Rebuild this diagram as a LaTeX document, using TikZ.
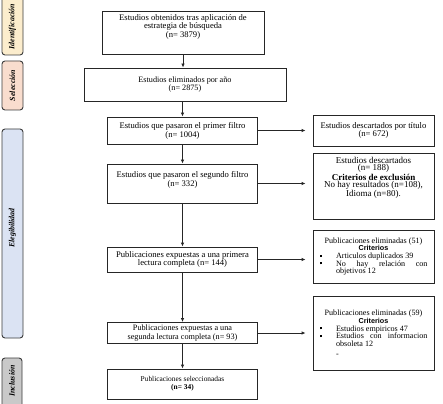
\documentclass[tikz,border=0pt]{standalone}
\usepackage{fontspec}
\setmainfont{Liberation Serif}
\setsansfont{Liberation Sans}
\usetikzlibrary{arrows.meta}
\definecolor{cIdent}{RGB}{252,237,205}
\definecolor{cSel}{RGB}{249,221,206}
\definecolor{cEleg}{RGB}{219,227,243}
\definecolor{cIncl}{RGB}{201,201,201}
\definecolor{cEdge}{RGB}{60,60,60}
\newcommand{\sqbul}{\makebox[16.5pt][l]{\rule[1.8pt]{2pt}{2pt}}}
\newcommand{\fullln}[1]{\makebox[108pt][s]{#1}}
\newcommand{\leftln}[1]{\makebox[108pt][l]{#1}}
\begin{document}
\begin{tikzpicture}[x=1pt,y=-1pt,
  phase/.style={draw=cEdge, line width=0.9pt, rounded corners=3pt},
  phaselbl/.style={rotate=90, font=\fontsize{7.9}{8}\selectfont\bfseries\itshape, inner sep=0pt},
  box/.style={draw=black!85, line width=0.8pt, fill=white, align=center, inner sep=1pt,
    font=\fontsize{8.6}{8}\selectfont},
  txt/.style={align=center, inner sep=0pt, font=\fontsize{8.6}{8.4}\selectfont},
  rbox/.style={draw=black!85, line width=0.8pt, fill=white, align=center, inner sep=1pt,
    minimum width=121pt, font=\fontsize{8.4}{8}\selectfont},
  arr/.style={-{Latex[length=4pt,width=3.4pt]}, line width=0.8pt, draw=black!85}]
\useasboundingbox (0,0) rectangle (443,403);
\clip (0,0) rectangle (443,403);
\fill[white] (0,0) rectangle (443,403);

% phase bars
\draw[phase, fill=cIdent] (2,-6) rectangle (23,55);
\node[phaselbl] (lident) at (12.5,26.5) {Identificación};
\draw[phase, fill=cSel] (2,61) rectangle (23,110);
\node[phaselbl] (lsel) at (12.5,85.5) {Selección};
\draw[phase, fill=cEleg] (2,129) rectangle (23,338);
\node[phaselbl] (leleg) at (12.5,228) {Elegibilidad};
\draw[phase, fill=cIncl] (2,358) rectangle (22,412);
\node[phaselbl] (lincl) at (12,381) {Inclusión};

% main column
\node[box, minimum width=162pt, minimum height=43pt] (b1) at (183,32.5) {};
\node[txt] (t1) at ([yshift=5.8pt]b1.center) {Estudios obtenidos tras aplicación de\\ estrategia de búsqueda\\ (n= 3879)};
\node[box, minimum width=202pt, minimum height=33pt, font=\fontsize{8.2}{8.6}\selectfont] (b2) at (185,84.5) {Estudios eliminados por año\\ (n= 2875)};
\node[box, minimum width=150pt, minimum height=27pt, font=\fontsize{8.6}{7}\selectfont] (b3) at (182.5,130.5) {Estudios que pasaron el primer filtro\\ (n= 1004)};
\node[box, minimum width=150pt, minimum height=39pt] (b4) at (182.5,183.5) {};
\node[txt, font=\fontsize{8.6}{7.6}\selectfont] (t4) at ([yshift=3.5pt]b4.center) {Estudios que pasaron el segundo filtro\\ (n= 332)};
\node[box, minimum width=150pt, minimum height=25pt, font=\fontsize{8.6}{8.6}\selectfont] (b5) at (182.5,259.5) {Publicaciones expuestas a una primera\\ lectura completa (n= 144)};
\node[box, minimum width=150pt, minimum height=21pt, font=\fontsize{8.2}{7.4}\selectfont] (b6) at (182.5,333) {Publicaciones expuestas a una\\ segunda lectura completa (n= 93)};
\node[box, minimum width=150pt, minimum height=30pt, font=\fontsize{7.4}{8.2}\selectfont] (b7) at (182.5,384) {Publicaciones seleccionadas\\ \textbf{(n= 34)}};

% right column
\node[rbox, minimum height=31pt, font=\fontsize{8.6}{8.6}\selectfont] (r1) at (373.5,130.5) {Estudios descartados por título\\ (n= 672)};
\node[rbox, minimum height=66pt] (r2) at (373.5,186) {};
\node[txt, font=\fontsize{9}{7.6}\selectfont] (t2) at ([yshift=8pt]r2.center) {Estudios descartados\\ (n= 188)\\ \textbf{Criterios de exclusión}\\ No hay resultados (n=108),\\ Idioma (n=80).};
\node[rbox, minimum height=53pt, font=\fontsize{8.1}{7.7}\selectfont] (r3) at (373.5,256.5) {Publicaciones eliminadas (51)\\ {\sffamily\bfseries\fontsize{7.2}{7.4}\selectfont Criterios}\\
  \leftln{\sqbul Articulos duplicados 39}\\
  \fullln{\sqbul No hay relación con}\\
  \leftln{\hspace*{16.5pt}objetivos 12}};
\node[rbox, minimum height=74pt, font=\fontsize{8.1}{7.8}\selectfont] (r4) at (373.5,333) {Publicaciones eliminadas (59)\\ {\sffamily\bfseries\fontsize{7.2}{7.4}\selectfont Criterios}\\
  \leftln{\sqbul Estudios empiricos 47}\\
  \fullln{\sqbul Estudios con informacion}\\
  \leftln{\hspace*{16.5pt}obsoleta 12}\\[1.5pt]
  \leftln{\hspace*{16.5pt}-}};

% vertical arrows
\draw[arr] (b1.south) -- (b1.south |- b2.north);
\draw[arr] (b3.north |- b2.south) -- (b3.north);
\draw[arr] (b3.south) -- (b4.north);
\draw[arr] (b4.south) -- (b5.north);
\draw[arr] (b5.south) -- (b6.north);
\draw[arr] (b6.south) -- (b7.north);

% horizontal arrows
\draw[arr, shorten >=7pt] (b3.east) -- (b3.east -| r1.west);
\draw[arr, shorten >=7pt] (b4.east) -- (b4.east -| r2.west);
\draw[arr, shorten >=7pt] (b5.east) -- (b5.east -| r3.west);
\draw[arr, shorten >=7pt] (b6.east) -- (b6.east -| r4.west);
\end{tikzpicture}
\end{document}
